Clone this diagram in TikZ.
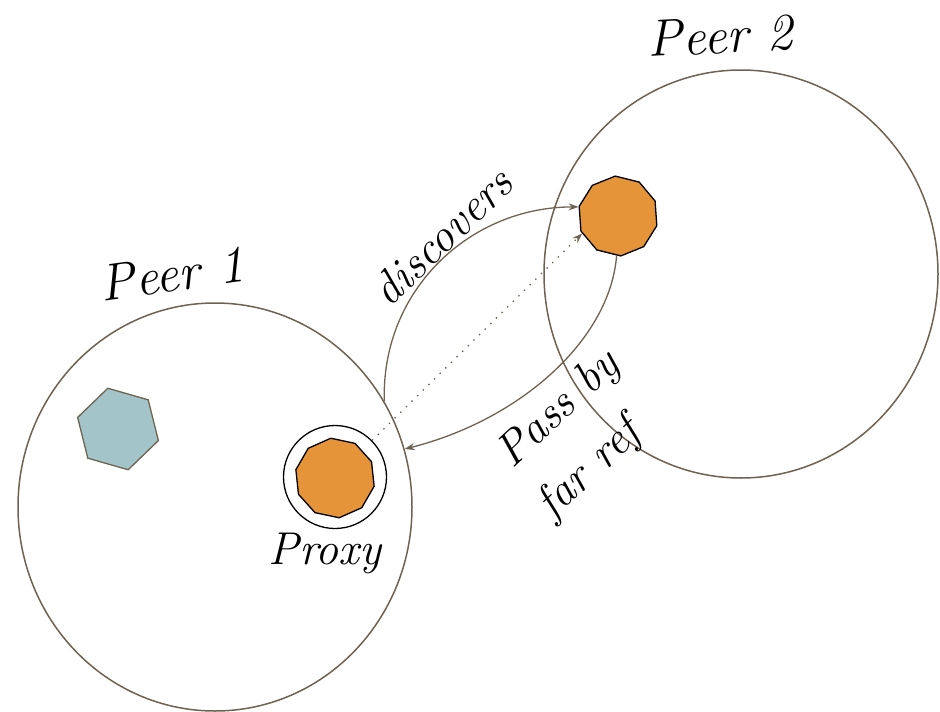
\documentclass[tikz,border=0pt]{standalone}
\usetikzlibrary{shapes.geometric,arrows.meta}
\definecolor{edge}{RGB}{110,98,80}
\definecolor{orangefill}{RGB}{230,148,58}
\definecolor{tealfill}{RGB}{163,196,201}
\tikzset{
  peer/.style={ellipse, draw=edge, line width=1.5pt, inner sep=0pt,
               minimum width=394pt, minimum height=408pt},
  object/.style={regular polygon, regular polygon sides=10, draw=black, line width=1.3pt,
                 fill=orangefill, inner sep=0pt, minimum size=#1},
  link/.style={draw=edge, line width=1.3pt, -{Stealth[length=10pt,width=7pt]}},
  label/.style={font=\fontsize{46}{50}\selectfont\itshape, inner sep=0pt},
  peerlabel/.style={font=\fontsize{52}{56}\selectfont\itshape, inner sep=0pt},
}
\begin{document}
\begin{tikzpicture}[x=1pt,y=-1pt]
  \useasboundingbox (0,0) rectangle (940,712);

  % the two peers
  \node[peer] (p1) at (215,507) {};
  \node[peer] (p2) at (741,274) {};
  \node[peerlabel, rotate=8] (p1lab) at (172,274) {Peer 1};
  \node[peerlabel, rotate=3] (p2lab) at (720,36) {Peer 2};

  % local object of peer 1
  \node[regular polygon, regular polygon sides=6, shape border rotate=-16,
        draw=edge, line width=1.3pt, fill=tealfill, inner sep=0pt,
        minimum size=84pt] (hex) at (118,429) {};

  % remote object in peer 2
  \node[object=80pt, shape border rotate=22] (obj) at (618,216) {};

  % proxy in peer 1
  \node[circle, draw=black, line width=1.3pt, inner sep=0pt, minimum size=103pt] (proxy) at (335,477) {};
  \node[object=80pt, shape border rotate=24] (pobj) at (335,478) {};
  \node[label] (proxylab) at (325,553) {Proxy};

  % discovery and reference passing
  \draw[link] (p1.32.3) .. controls (381,290) and (470,207) .. (obj.167);
  \draw[link] (obj.268) .. controls (610,340) and (520,420) .. (p1.17.3);
  \draw[draw=edge, line width=1.3pt, dash pattern=on 1.4pt off 6.5pt,
        -{Stealth[length=10pt,width=7pt]}] (proxy) -- (obj.206);

  \node[label, rotate=44] (disc) at (442,236) {discovers};
  \node[label, rotate=43] (pass) at (559,410) {Pass by};
  \node[label, rotate=43] (farref) at (590,470) {far ref};
\end{tikzpicture}
\end{document}
